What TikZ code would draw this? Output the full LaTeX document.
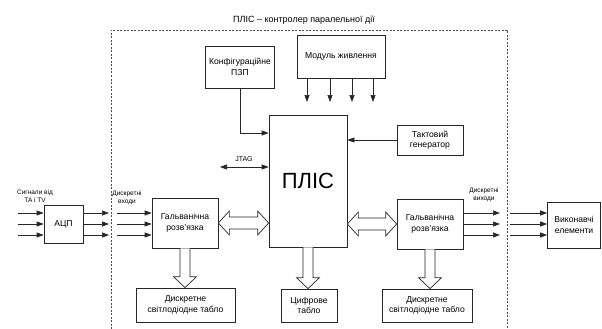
\documentclass[tikz,border=0pt]{standalone}
\usepackage{fontspec}
\setmainfont{Liberation Sans}
\usetikzlibrary{arrows.meta,calc}
\begin{document}
\begin{tikzpicture}[x=1pt,y=-1pt,
  box/.style={draw=black!85,line width=0.7pt,align=center,font=\fontsize{8.6}{10.5}\selectfont,inner sep=1pt},
  lab/.style={align=center,font=\fontsize{6.5}{8}\selectfont,inner sep=0pt},
  arr/.style={draw=black!85,line width=0.7pt,-{Triangle[length=7pt,width=5pt]}},
  darr/.style={draw=black!85,line width=0.7pt,{Triangle[length=7pt,width=5pt]}-{Triangle[length=7pt,width=5pt]}},
  hollow/.style={draw=black!85,line width=0.7pt,fill=white,line join=miter},
  frame/.style={draw=black!70,line width=0.6pt,dash pattern=on 2pt off 1.5pt}]
\useasboundingbox (0,0) rectangle (602,329);
% frame
\node[lab,font=\fontsize{9}{10}\selectfont] (title) at (304,20) {ПЛІС – контролер паралельної дії};
\coordinate (fbl) at (111,329);
\coordinate (ftl) at (111,30);
\coordinate (ftr) at (507,30);
\coordinate (fbr) at (507,329);
\draw[frame] (fbl) -- (ftl) -- (ftr) -- (fbr);
% boxes
\node[box,minimum width=69pt,minimum height=42pt] (pzp) at (240,67) {Конфігураційне\\ПЗП};
\node[box,minimum width=88pt,minimum height=43pt] (mod) at (341,56.5) {Модуль живлення};
\node[box,minimum width=78pt,minimum height=132pt,font=\fontsize{22}{24}\selectfont] (pld) at (308,181) {ПЛІС};
\node[box,minimum width=66pt,minimum height=30pt] (clk) at (430,140) {Тактовий\\генератор};
\node[box,minimum width=39pt,minimum height=38pt] (adc) at (63.5,224) {АЦП};
\node[box,minimum width=66pt,minimum height=50pt] (g1) at (185,223) {Гальванічна\\розв’язка};
\node[box,minimum width=66pt,minimum height=50pt] (g2) at (430,224) {Гальванічна\\розв’язка};
\node[box,minimum width=53pt,minimum height=46pt] (act) at (574,225) {Виконавчі\\елементи};
\node[box,minimum width=99pt,minimum height=34pt] (d1) at (185.5,305) {Дискретне\\світлодіодне табло};
\node[box,minimum width=56pt,minimum height=33pt] (dig) at (309,305.5) {Цифрове\\табло};
\node[box,minimum width=90pt,minimum height=33pt] (d2) at (427,305.5) {Дискретне\\світлодіодне табло};
% labels
\node[lab] (sig) at (35,196) {Сигнали від\\ТА і ТV};
\node[lab] (din) at (127,198) {Дискретні\\входи};
\node[lab] (dout) at (484,195) {Дискретні\\виходи};
\node[lab,font=\fontsize{7}{8}\selectfont] (jtag) at (244,159) {JTAG};
% power arrows
\foreach \x [count=\i] in {307,330,352,373} {
  \coordinate (p\i) at (\x,102);
  \draw[arr] (mod.south -| p\i) -- (p\i);
}
% config ROM line
\coordinate (cfg) at (269,133);
\draw[arr] (pzp.south) |- (pld.west |- cfg);
% clock
\draw[arr] (clk.west) -- (clk.west -| pld.east);
% JTAG
\coordinate (jt) at (220,167);
\draw[darr] (jt) -- (jt -| pld.west);
% inputs
\foreach \y [count=\i] in {213,224,235} {
  \coordinate (a\i) at (18,\y);
  \draw[arr] (a\i) -- (a\i -| adc.west);
  \coordinate (b\i) at (109,\y);
  \draw[arr] (b\i -| adc.east) -- (b\i);
  \coordinate (c\i) at (117,\y);
  \draw[arr] (c\i) -- (c\i -| g1.west);
  \coordinate (e\i) at (500,\y);
  \draw[arr] (e\i -| g2.east) -- (e\i);
  \coordinate (f\i) at (510,\y);
  \draw[arr] (f\i) -- (f\i -| act.west);
}
% hollow double arrows
\draw[hollow] let \p1=(g1.east), \p2=(pld.west |- g1.east) in
  (\x1,\y1) -- (\x1+11pt,\y1+12pt) -- (\x1+11pt,\y1+6pt) -- (\x2-11pt,\y2+6pt) -- (\x2-11pt,\y2+12pt) -- (\x2,\y2)
  -- (\x2-11pt,\y2-12pt) -- (\x2-11pt,\y2-6pt) -- (\x1+11pt,\y1-6pt) -- (\x1+11pt,\y1-12pt) -- cycle;
\draw[hollow] let \p1=(pld.east |- g2.west), \p2=(g2.west) in
  (\x1,\y1) -- (\x1+11pt,\y1+12pt) -- (\x1+11pt,\y1+6pt) -- (\x2-11pt,\y2+6pt) -- (\x2-11pt,\y2+12pt) -- (\x2,\y2)
  -- (\x2-11pt,\y2-12pt) -- (\x2-11pt,\y2-6pt) -- (\x1+11pt,\y1-6pt) -- (\x1+11pt,\y1-12pt) -- cycle;
% hollow down arrows
\foreach \s/\t in {g1/d1,pld/dig,g2/d2} {
  \draw[hollow] let \p1=(\s.south), \p2=(\s.south |- \t.north) in
    (\x1-5pt,\y1) -- (\x1-5pt,\y2+11pt) -- (\x1-11.5pt,\y2+11pt) -- (\x2,\y2) -- (\x1+11.5pt,\y2+11pt) -- (\x1+5pt,\y2+11pt) -- (\x1+5pt,\y1);
}
\end{tikzpicture}
\end{document}
